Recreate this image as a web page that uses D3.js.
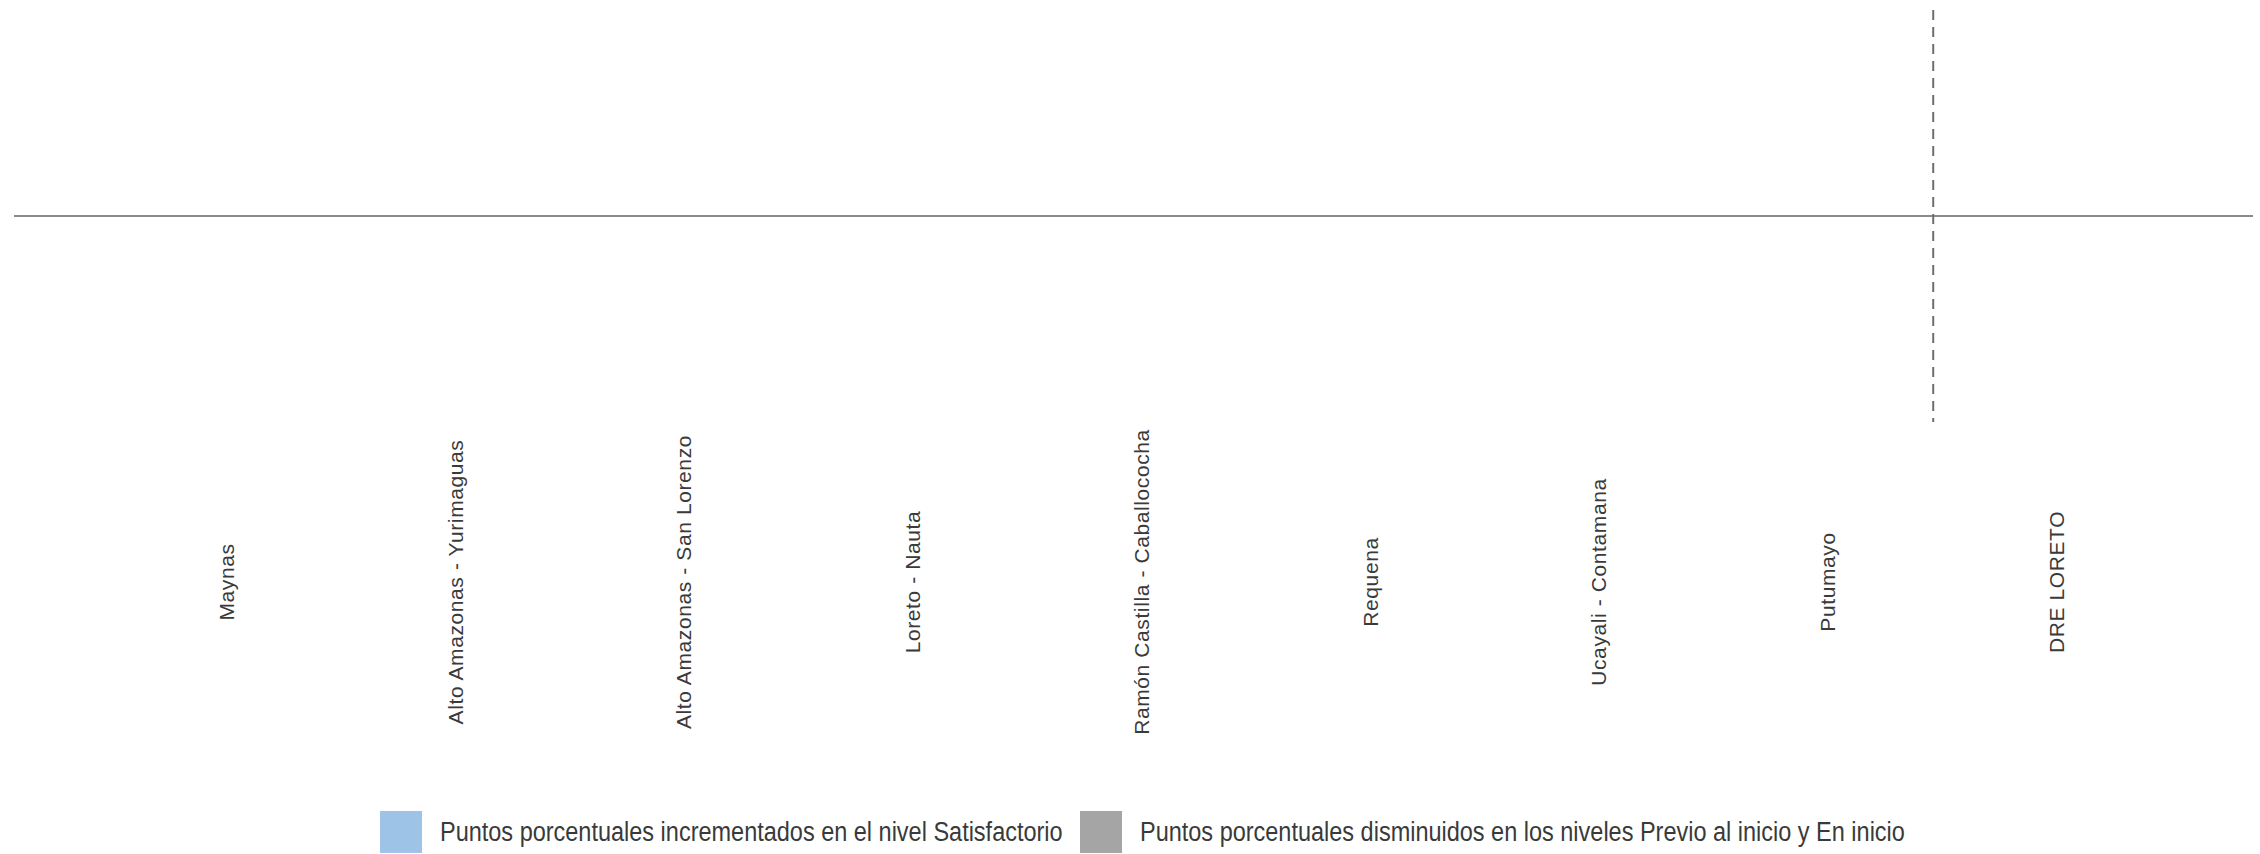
<!DOCTYPE html>
<html>
<head>
<meta charset="utf-8">
<script src="https://cdn.jsdelivr.net/npm/d3@7"></script>
<style>
  html, body { margin: 0; padding: 0; background: #fff; }
  svg { display: block; }
  .cat text { font-family: "Liberation Sans", Arial, sans-serif; font-size: 21px; fill: #3a3a3a; letter-spacing: 0.6px; }
  .legend text { font-family: "Liberation Sans", Arial, sans-serif; font-size: 27px; fill: #3a3a3a; }
</style>
</head>
<body>
<div id="app"></div>
<script>
const width = 2260;
const height = 854;

// Data
const categories = [
  'Maynas',
  'Alto Amazonas - Yurimaguas',
  'Alto Amazonas - San Lorenzo',
  'Loreto - Nauta',
  'Ramón Castilla - Caballococha',
  'Requena',
  'Ucayali - Contamana',
  'Putumayo',
  'DRE LORETO'
];
const seriesNames = [
  'Puntos porcentuales incrementados en el nivel Satisfactorio',
  'Puntos porcentuales disminuidos en los niveles Previo al inicio y En inicio'
];
// no bars are visible in the picture: every value reads as 0
const satisfactorio = [0, 0, 0, 0, 0, 0, 0, 0, 0];
const disminuidos   = [0, 0, 0, 0, 0, 0, 0, 0, 0];
const yDomain = [-40, 40];

const colors = ['#9dc3e6', '#a5a5a5'];

const svg = d3.select('#app').append('svg')
  .attr('width', width)
  .attr('height', height);

const x = d3.scaleBand()
  .domain(categories)
  .range([112, 2171])
  .paddingInner(0.3)
  .paddingOuter(0.15);

const xSeries = d3.scaleBand()
  .domain([0, 1])
  .range([0, x.bandwidth()])
  .padding(0.05);

const y = d3.scaleLinear()
  .domain(yDomain)
  .range([422, 10]);

// bars
const rows = categories.map((c, i) => ({ c, v: [satisfactorio[i], disminuidos[i]] }));
svg.append('g')
  .selectAll('g')
  .data(rows)
  .join('g')
  .attr('transform', d => `translate(${x(d.c)},0)`)
  .selectAll('rect')
  .data(d => d.v.map((v, k) => ({ v, k })))
  .join('rect')
  .attr('x', d => xSeries(d.k))
  .attr('width', xSeries.bandwidth())
  .attr('y', d => y(Math.max(0, d.v)))
  .attr('height', d => Math.abs(y(d.v) - y(0)))
  .attr('fill', d => colors[d.k]);

// zero line
svg.append('line')
  .attr('x1', 14)
  .attr('x2', 2253)
  .attr('y1', y(0))
  .attr('y2', y(0))
  .attr('stroke', '#8a8a8a')
  .attr('stroke-width', 2);

// separator before DRE LORETO
const step = x.step();
const sepX = x(categories[categories.length - 1]) + x.bandwidth() / 2 - step / 2 - 9;
svg.append('line')
  .attr('x1', sepX)
  .attr('x2', sepX)
  .attr('y1', y(yDomain[1]))
  .attr('y2', y(yDomain[0]))
  .attr('stroke', '#6e6e6e')
  .attr('stroke-width', 2)
  .attr('stroke-dasharray', '10,7');

// category labels
const axis = d3.axisBottom(x).tickSize(0).tickPadding(0);
const gx = svg.append('g')
  .attr('class', 'cat')
  .attr('transform', `translate(0,582)`)
  .call(axis);
gx.select('.domain').remove();
gx.selectAll('text')
  .attr('y', 0)
  .attr('x', 0)
  .attr('dy', '0.35em')
  .attr('transform', 'rotate(-90)')
  .style('text-anchor', 'middle')
  .attr('font-family', null)
  .attr('font-size', null)
  .attr('fill', null);

// legend (condensed text, as in the original)
const legend = svg.append('g').attr('class', 'legend');
const legendX = [380, 1080];
seriesNames.forEach((name, i) => {
  const g = legend.append('g').attr('transform', `translate(${legendX[i]},811)`);
  g.append('rect')
    .attr('width', 42)
    .attr('height', 42)
    .attr('fill', colors[i]);
  g.append('text')
    .attr('transform', 'translate(60,21) scale(0.87,1)')
    .attr('dy', '0.35em')
    .text(name);
});
</script>
</body>
</html>
